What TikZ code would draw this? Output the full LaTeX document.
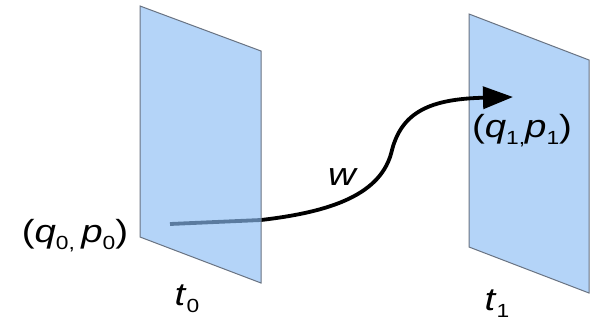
\documentclass[tikz,border=0pt]{standalone}
\usepackage{fontspec}
\setmainfont{Liberation Sans}
\usetikzlibrary{arrows.meta}
\definecolor{planeblue}{RGB}{140,190,245}
\definecolor{planeedge}{RGB}{105,115,130}
\newcommand{\sbs}[1]{\raisebox{-0.45ex}{\fontsize{19}{19}\selectfont #1}}
\newcommand{\wide}[1]{\scalebox{1.2}[1]{#1}}

\begin{document}
\begin{tikzpicture}[x=1pt,y=-1pt,
  plane/.style={draw=planeedge,line width=1pt,fill=planeblue,fill opacity=0.65},
  lbl/.style={font=\fontsize{32}{36}\selectfont,inner sep=0pt,anchor=base}]
\useasboundingbox (0,0) rectangle (592,322);

\fill[white] (0,0) rectangle (592,322);
\draw[plane] (469,14) -- (589,60) -- (589,293) -- (469,247) -- cycle;

\coordinate (start) at (170,224);
\coordinate (cross) at (261,220);
\coordinate (bend) at (392,150);
\coordinate (stop) at (513,97);
\draw[line width=3.8pt,-{Triangle[length=30pt,width=22pt]}] (start) -- (cross)
  .. controls (330,212) and (382,195) .. (bend)
  .. controls (402,112) and (430,99) .. (stop);

\draw[plane] (140,6) -- (261,51) -- (261,283) -- (140,237) -- cycle;

\node[lbl] (qp0) at (75,242) {\wide{(\textit{q}\sbs{0,}\,\textit{p}\sbs{0})}};
\node[lbl] (t0) at (187,305) {\wide{\textit{t}\sbs{0}}};
\node[lbl] (w) at (343,185) {\wide{\textit{w}}};
\node[lbl] (qp1) at (522,137) {\wide{(\textit{q}\sbs{1,}\textit{p}\sbs{1})}};
\node[lbl] (t1) at (497,310) {\wide{\textit{t}\sbs{1}}};
\end{tikzpicture}
\end{document}
